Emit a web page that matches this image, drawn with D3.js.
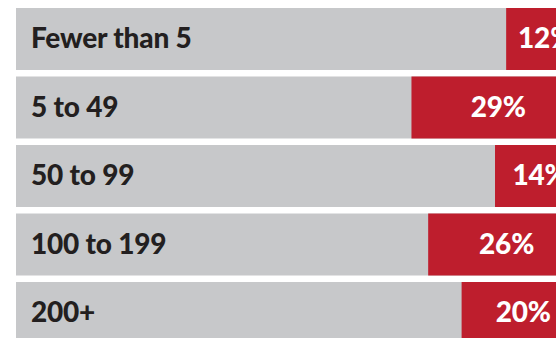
<!DOCTYPE html>
<html>
<head>
<meta charset="utf-8">
<script src="https://cdn.jsdelivr.net/npm/d3@7"></script>
<style>
  html, body { margin: 0; padding: 0; background: #ffffff; overflow: hidden; }
  svg { display: block; }
</style>
</head>
<body>
<svg id="chart" width="556" height="338"></svg>
<script>
// Share of respondents by organisation size
const categories = ["Fewer than 5", "5 to 49", "50 to 99", "100 to 199", "200+"];
const shares = [12, 29, 14, 26, 20];
const shareLabels = ["12%", "29%", "14%", "26%", "20%"];

const svg = d3.select("#chart");

const x = d3.scaleLinear().domain([0, 100]).range([16, 573]);
const y = d3.scaleBand().domain(categories).range([8, 344]).paddingInner(0.095).paddingOuter(0);

const rows = svg.selectAll("g.row")
  .data(categories.map((c, i) => ({ cat: c, v: shares[i], label: shareLabels[i] })))
  .join("g")
  .attr("class", "row")
  .attr("transform", d => `translate(0,${y(d.cat)})`);

// full-width track
rows.append("rect")
  .attr("x", x(0))
  .attr("y", 0)
  .attr("width", x(100) - x(0))
  .attr("height", y.bandwidth())
  .attr("fill", "#c7c8ca");

// share, anchored to the right end of the track
rows.append("rect")
  .attr("x", d => x(100 - d.v))
  .attr("y", 0)
  .attr("width", d => x(100) - x(100 - d.v))
  .attr("height", y.bandwidth())
  .attr("fill", "#be1e2d");

const fontStack = "Lato, 'Open Sans', 'DejaVu Sans', sans-serif";

rows.append("text")
  .attr("x", 31)
  .attr("y", y.bandwidth() / 2 + 9.5)
  .attr("fill", "#231f20")
  .style("font-family", fontStack)
  .style("font-weight", 900)
  .style("font-size", "28px")
  .style("letter-spacing", "-0.2px")
  .text(d => d.cat);

rows.append("text")
  .attr("x", d => (x(100 - d.v) + 585) / 2)
  .attr("y", y.bandwidth() / 2 + 9.5)
  .attr("text-anchor", "middle")
  .attr("fill", "#ffffff")
  .style("font-family", fontStack)
  .style("font-weight", 900)
  .style("font-size", "28px")
  .style("letter-spacing", "-0.2px")
  .text(d => d.label);
</script>
</body>
</html>
